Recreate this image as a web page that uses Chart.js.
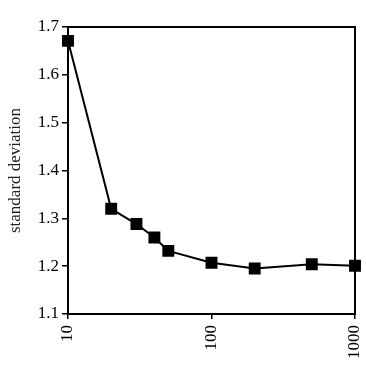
<!DOCTYPE html>
<html>
<head>
<meta charset="utf-8">
<script src="https://cdn.jsdelivr.net/npm/chart.js@4/dist/chart.umd.min.js"></script>
<style>
  html, body { margin: 0; padding: 0; background: #fff; }
  #wrap { width: 366px; height: 369px; }
</style>
</head>
<body>
<div id="wrap"><canvas id="chart"></canvas></div>
<script>
const sampleSizes = [10, 20, 30, 40, 50, 100, 200, 500, 1000];
const stdDev = [1.671, 1.320, 1.288, 1.260, 1.232, 1.207, 1.195, 1.204, 1.201];
const xTicks = [10, 100, 1000];
const yTicks = [1.1, 1.2, 1.3, 1.4, 1.5, 1.6, 1.7];

const serif = "'Liberation Serif', 'Times New Roman', serif";

// box around the plot area
const frame = {
  id: "frame",
  afterDraw(chart) {
    const a = chart.chartArea;
    const c = chart.ctx;
    c.save();
    c.strokeStyle = "#000";
    c.lineWidth = 2;
    c.strokeRect(a.left, a.top, a.right - a.left, a.bottom - a.top);
    c.restore();
  }
};

new Chart(document.getElementById("chart"), {
  type: "line",
  data: {
    datasets: [{
      data: sampleSizes.map((x, i) => ({ x: x, y: stdDev[i] })),
      borderColor: "#000",
      backgroundColor: "#000",
      borderWidth: 2,
      pointStyle: "rect",
      pointRadius: 7,
      pointHoverRadius: 7,
      tension: 0,
      clip: false
    }]
  },
  options: {
    responsive: true,
    maintainAspectRatio: false,
    animation: false,
    layout: { padding: { top: 27, right: 11, left: 3, bottom: 0 } },
    plugins: { legend: { display: false }, tooltip: { enabled: false } },
    scales: {
      x: {
        type: "logarithmic",
        min: 10,
        max: 1000,
        afterBuildTicks: s => { s.ticks = xTicks.map(v => ({ value: v })); },
        afterFit: s => { s.height = 55; s.paddingLeft = 0; s.paddingRight = 0; },
        grid: { drawOnChartArea: false, drawTicks: true, tickLength: 5, color: "#000", lineWidth: 1.5 },
        border: { display: true, color: "#000", width: 2 },
        ticks: {
          minRotation: 90,
          maxRotation: 90,
          padding: 6,
          color: "#000",
          font: { family: serif, size: 17 },
          callback: v => String(v)
        }
      },
      y: {
        min: 1.1,
        max: 1.7,
        afterBuildTicks: s => { s.ticks = yTicks.map(v => ({ value: v })); },
        afterFit: s => { s.width = 65; s.paddingTop = 0; s.paddingBottom = 0; },
        grid: { drawOnChartArea: false, drawTicks: true, tickLength: 6, color: "#000", lineWidth: 1.5 },
        border: { display: true, color: "#000", width: 2 },
        title: {
          display: true,
          text: "standard deviation",
          color: "#222",
          font: { family: serif, size: 17 },
          padding: { top: 2, bottom: 2 }
        },
        ticks: {
          padding: 3,
          color: "#000",
          font: { family: serif, size: 17 },
          callback: v => Number(v).toFixed(1)
        }
      }
    }
  },
  plugins: [frame]
});
</script>
</body>
</html>
